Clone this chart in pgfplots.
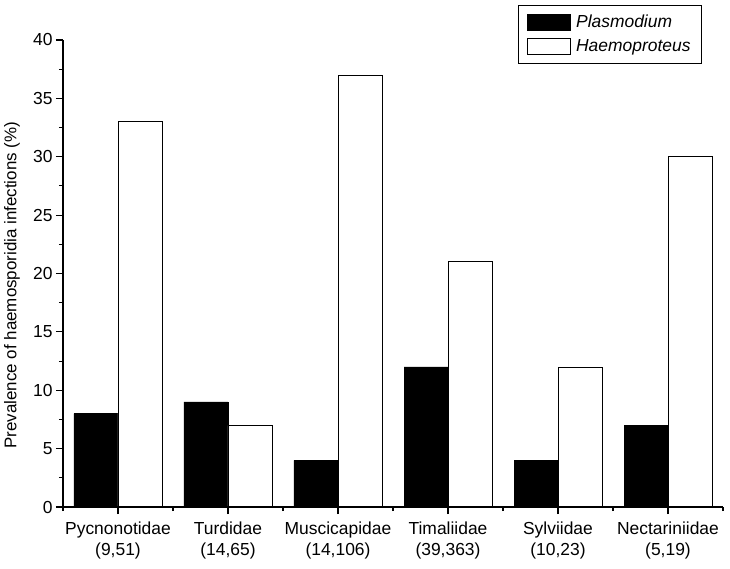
\documentclass[border=0pt]{standalone}
\usepackage{fontspec}
\setmainfont{Liberation Sans}
\usepackage{pgfplots}
\pgfplotsset{compat=1.18}
\begin{document}
\begin{tikzpicture}
\begin{axis}[
  scale only axis,
  width=660bp, height=467bp,
  xmin=-0.5, xmax=5.5, ymin=0, ymax=40,
  axis on top,
  axis lines*=left,
  axis line style={line width=1.3bp, black},
  tick style={line width=1.1bp, black},
  tick align=outside,
  major tick length=7bp, minor tick length=4bp,
  xtick={0,1,2,3,4,5},
  minor xtick={-0.5,0.5,1.5,2.5,3.5,4.5,5.5},
  xticklabels={{Pycnonotidae\\(9,51)},{Turdidae\\(14,65)},{Muscicapidae\\(14,106)},{Timaliidae\\(39,363)},{Sylviidae\\(10,23)},{Nectariniidae\\(5,19)}},
  xticklabel style={align=center, font=\fontsize{17.5}{21}\selectfont, yshift=-4bp},
  ytick={0,5,...,40},
  minor ytick={2.5,7.5,...,37.5},
  yticklabel style={font=\fontsize{17.5}{20}\selectfont},
  /pgf/number format/assume math mode=true,
  ylabel={Prevalence of haemosporidia infections (\%)},
  ylabel style={at={(rel axis cs:-0.0773,0.475)}, anchor=center, font=\fontsize{17}{20}\selectfont},
  clip=false,
  legend style={at={(0.968,1.075)}, anchor=north east, draw=black, line width=0.8bp,
    inner xsep=9bp, inner ysep=8bp, font=\fontsize{17.5}{20}\selectfont, row sep=6bp, column sep=3bp,
    nodes={inner xsep=2bp}},
  legend cell align=left,
]
\addplot[ybar, bar width=0.4, bar shift=-0.2, fill=black, draw=black, line width=0.8bp,
  legend image code/.code={\draw[fill=black,draw=black,line width=0.8bp] (0bp,-8bp) rectangle (43bp,8bp);}]
  coordinates {(0,8) (1,9) (2,4) (3,12) (4,4) (5,7)};
\addlegendentry{\textit{Plasmodium}}
\addplot[ybar, bar width=0.4, bar shift=0.2, fill=white, draw=black, line width=0.8bp,
  legend image code/.code={\draw[fill=white,draw=black,line width=0.8bp] (0bp,-8bp) rectangle (43bp,8bp);}]
  coordinates {(0,33) (1,7) (2,37) (3,21) (4,12) (5,30)};
\addlegendentry{\textit{Haemoproteus}}
\path (rel axis cs:-0.09545,-0.13062) rectangle (rel axis cs:1.01061,1.08565);
\end{axis}
\end{tikzpicture}
\end{document}
